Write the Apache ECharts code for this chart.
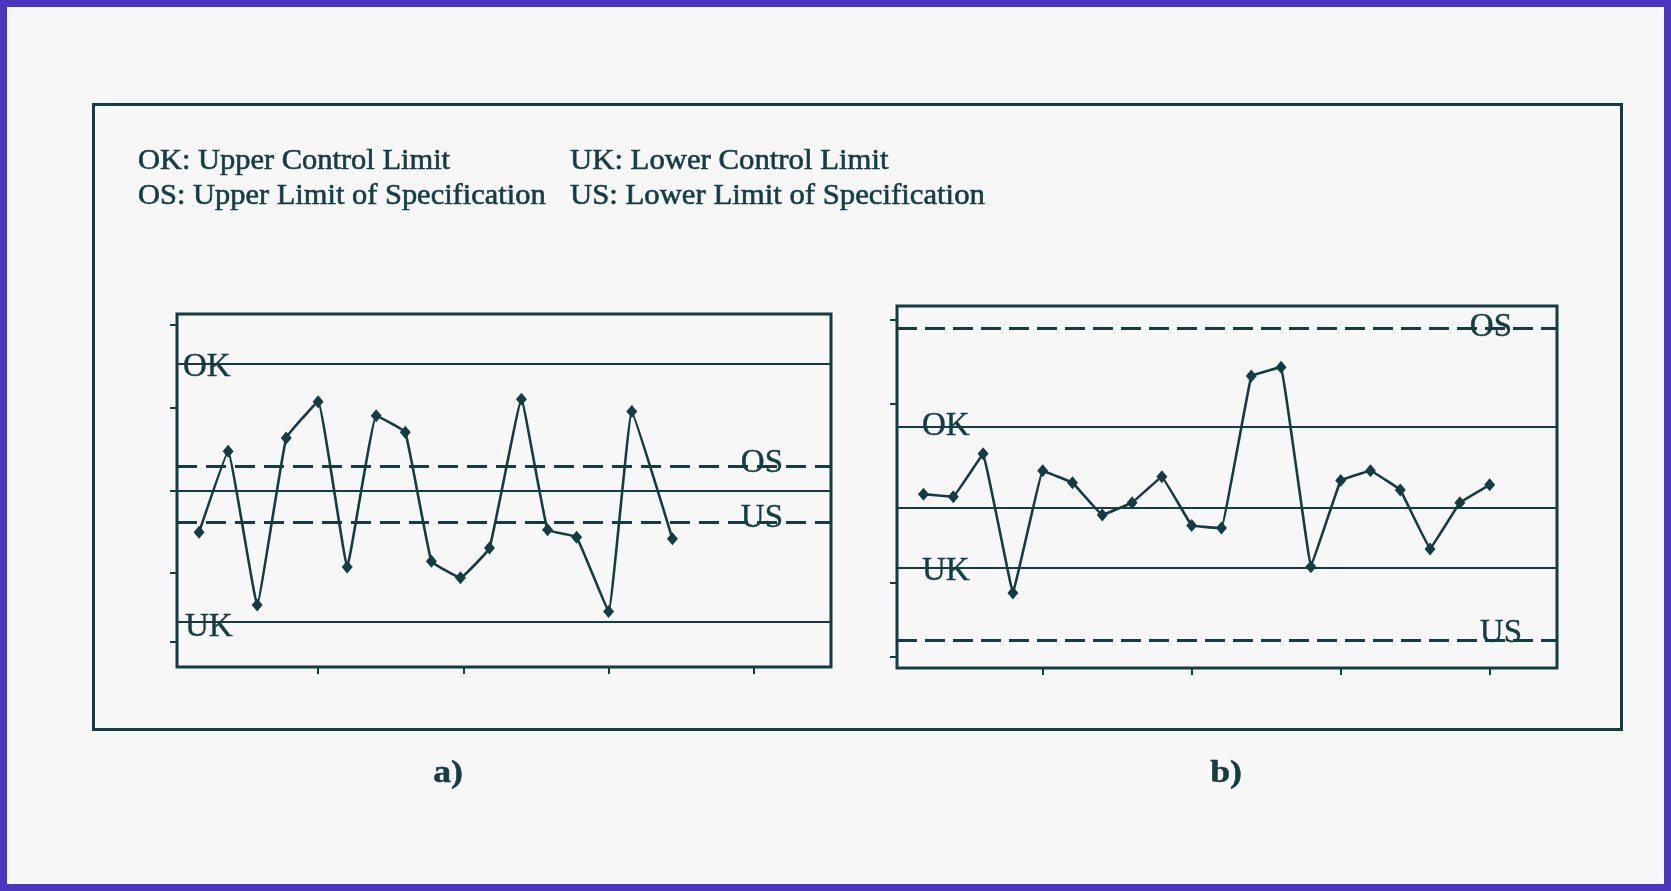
<!DOCTYPE html>
<html>
<head>
<meta charset="utf-8">
<script src="https://cdn.jsdelivr.net/npm/echarts@6/dist/echarts.min.js"></script>
<style>
html,body{margin:0;padding:0;background:#f7f7f7;}
#c{width:1671px;height:891px;}
</style>
</head>
<body>
<div id="c"></div>
<script>
// ---------- data ----------
const legendCol1 = ["OK: Upper Control Limit", "OS: Upper Limit of Specification"];
const legendCol2 = ["UK: Lower Control Limit", "US: Lower Limit of Specification"];
const panelLabels = ["a)", "b)"];

// chart a) samples
const xA = [0.9, 1.9, 2.9, 3.9, 5, 6, 7, 8, 8.9, 9.9, 10.9, 12, 12.9, 13.9, 15, 15.8, 17.2];
const yA = [-5.0, 4.8, -13.8, 6.4, 10.8, -9.2, 9.1, 7.1, -8.5, -10.5, -6.9, 11.1, -4.7, -5.6, -14.6, 9.6, -5.8];
// chart b) samples
const xB = [1, 2, 3, 4, 5, 6, 7, 8, 9, 10, 11, 12, 13, 14, 15, 16, 17, 18, 19, 20];
const yB = [1.65, 1.35, 6.4, -10.0, 4.4, 3.0, -0.8, 0.65, 3.7, -2.05, -2.35, 15.55, 16.6, -6.9, 3.25, 4.4, 2.15, -4.8, 0.65, 2.75];

// limit lines (name, value)
const limitNames = ["OK", "OS", "", "US", "UK"];
const limitsA = [15.4, 3.0, 0, -3.8, -15.8];
const limitsB = [9.6, 21.2, 0, -15.6, -7.05];
const limitDashed = [false, true, false, true, false];

// axis ticks
const xTicks = [5, 10, 15, 20];
const yTicksA = [20.1, 10, 0, -9.9, -18.3];
const yTicksB = [22.24, 12.24, -8.82, -17.46];

// ---------- style ----------
const INK = '#143d43';
const chart = echarts.init(document.getElementById('c'), null, {renderer: 'canvas'});

function limitLines(vals, dash) {
  return vals.map((v, i) => ({
    yAxis: v,
    lineStyle: {color: INK, width: limitDashed[i] ? 2.8 : 2.2, type: limitDashed[i] ? dash : 'solid'}
  }));
}

function seriesFor(idx, xs, ys, lims, dash, smooth) {
  return {
    type: 'line',
    xAxisIndex: idx, yAxisIndex: idx,
    data: xs.map((x, i) => [x, ys[i]]),
    smooth: smooth,
    symbol: 'diamond',
    symbolSize: [11, 13],
    lineStyle: {color: INK, width: 2.6},
    itemStyle: {color: INK},
    animation: false,
    z: 5,
    markLine: {
      silent: true, symbol: 'none', animation: false,
      label: {show: false},
      data: limitLines(lims, dash)
    }
  };
}

function xAxisFor(idx, min, max) {
  return {
    type: 'value', gridIndex: idx, min: min, max: max, position: 'bottom',
    axisLine: {show: false, onZero: false},
    axisTick: {show: true, inside: false, length: 7, customValues: xTicks, lineStyle: {color: INK, width: 2}},
    axisLabel: {show: false},
    splitLine: {show: false}
  };
}
function yAxisFor(idx, min, max, ticks) {
  return {
    type: 'value', gridIndex: idx, min: min, max: max, position: 'left',
    axisLine: {show: false, onZero: false},
    axisTick: {show: true, inside: false, length: 7, customValues: ticks, lineStyle: {color: INK, width: 2}},
    axisLabel: {show: false},
    splitLine: {show: false}
  };
}

const option = {
  backgroundColor: '#f7f7f7',
  animation: false,
  grid: [
    {left: 177, top: 314, width: 654, height: 353, show: true, borderColor: INK, borderWidth: 3, backgroundColor: 'transparent'},
    {left: 897, top: 306, width: 660, height: 362, show: true, borderColor: INK, borderWidth: 3, backgroundColor: 'transparent'}
  ],
  xAxis: [xAxisFor(0, 0.14, 22.66), xAxisFor(1, 0.11, 22.26)],
  yAxis: [yAxisFor(0, -21.3, 21.4, yTicksA), yAxisFor(1, -18.82, 23.8, yTicksB)],
  series: [
    seriesFor(0, xA, yA, limitsA, [20, 9], 0.08),
    seriesFor(1, xB, yB, limitsB, [20, 8], 0.04)
  ]
};
chart.setOption(option);

// ---------- text & frame graphics ----------
const SERIF = '"Liberation Serif", "DejaVu Serif", serif';
function txt(text, x, y, size, align, opts) {
  opts = opts || {};
  return {
    type: 'text', x: x, y: y, z: 20,
    scaleX: opts.scaleX || 1, scaleY: opts.scaleY || 1,
    style: {
      text: text, fill: INK, stroke: INK, lineWidth: opts.stroke || 0.6,
      font: (opts.weight || 'normal') + ' ' + size + 'px ' + SERIF,
      align: align, textAlign: align,
      verticalAlign: 'middle', textVerticalAlign: 'middle'
    }
  };
}

const g = [];
// outer purple frame
g.push({type: 'rect', z: 30, shape: {x: 0, y: 0, width: 1671, height: 891},
  style: {fill: 'none', stroke: '#4a36c0', lineWidth: 14}});
// inner figure box
g.push({type: 'rect', z: 1, shape: {x: 93.5, y: 104.5, width: 1528, height: 625},
  style: {fill: 'none', stroke: INK, lineWidth: 3}});
// legend text
legendCol1.forEach((t, i) => g.push(txt(t, 138, 161 + i * 35, 29, 'left', {scaleX: 1.05})));
legendCol2.forEach((t, i) => g.push(txt(t, 570, 161 + i * 35, 29, 'left', {scaleX: 1.06})));
// panel captions
g.push(txt(panelLabels[0], 448, 774, 31, 'center', {weight: 'bold', scaleX: 1.15, stroke: 0.5}));
g.push(txt(panelLabels[1], 1226, 774, 31, 'center', {weight: 'bold', scaleX: 1.15, stroke: 0.5}));

// line labels, positioned through the axes
function px(gi, xv, yv) { return chart.convertToPixel({gridIndex: gi}, [xv, yv]); }
const labelStyleA = {OK: ['left', 6, 3.5], UK: ['left', 8, 5.7], OS: ['right', -48, -3.2], US: ['right', -48, -3.7]};
const labelStyleB = {OK: ['left', 25, -0.7], UK: ['left', 25, 3.2], OS: ['right', -45, -1], US: ['right', -35, -7]};
function addLabels(gi, lims, st, xmin, xmax) {
  limitNames.forEach((n, i) => {
    if (!n) return;
    const s = st[n];
    const edge = s[0] === 'left' ? xmin : xmax;
    const p = px(gi, edge, lims[i]);
    g.push(txt(n, p[0] + s[1], p[1] + s[2], 33, s[0], {stroke: 0.4}));
  });
}
addLabels(0, limitsA, labelStyleA, 0.14, 22.66);
addLabels(1, limitsB, labelStyleB, 0.11, 22.26);

chart.setOption({graphic: g});
</script>
</body>
</html>
